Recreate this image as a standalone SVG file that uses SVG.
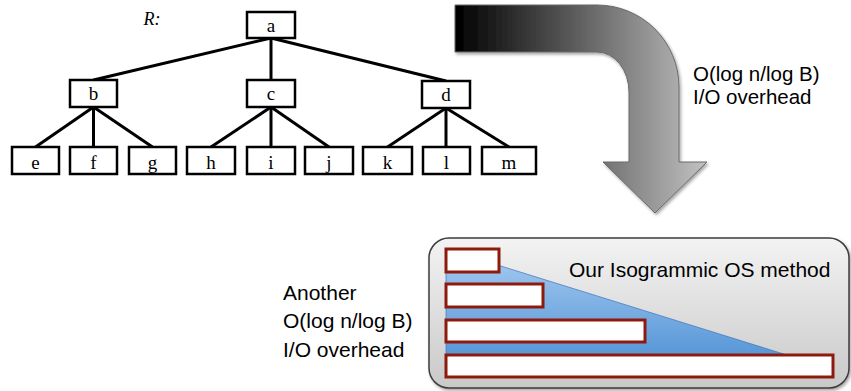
<svg xmlns="http://www.w3.org/2000/svg" width="851" height="391" viewBox="0 0 851 391">
<style>
.box{fill:#fff;stroke:#000;stroke-width:2.5}
.lbl{font-family:"Liberation Serif",serif;font-size:19px;text-anchor:middle;fill:#000}
.edge{stroke:#000;stroke-width:3;fill:none}
.sans{font-family:"Liberation Sans",Arial,sans-serif;font-size:21px;fill:#000}
.sans2{font-family:"Liberation Sans",Arial,sans-serif;font-size:20.5px;fill:#000}
.bar{fill:#fff;stroke:#8e1a0e;stroke-width:3}
</style>
<defs>
<linearGradient id="arrowGrad" gradientUnits="userSpaceOnUse" x1="455" y1="0" x2="707" y2="0">
<stop offset="0" stop-color="#000"/>
<stop offset="1" stop-color="#c2c2c2"/>
</linearGradient>
<linearGradient id="panelGrad" x1="0" y1="0" x2="0" y2="1">
<stop offset="0" stop-color="#f3f3f3"/>
<stop offset="1" stop-color="#c9c9c9"/>
</linearGradient>
<linearGradient id="blueGrad" x1="0" y1="0" x2="0" y2="1">
<stop offset="0" stop-color="#a9ccf2"/>
<stop offset="1" stop-color="#5495d6"/>
</linearGradient>
<filter id="shadow" x="-10%" y="-10%" width="130%" height="130%">
<feDropShadow dx="1.5" dy="2" stdDeviation="1.5" flood-color="#000" flood-opacity="0.35"/>
</filter>
</defs>

<g id="connectors">
<line class="edge" x1="271" y1="38" x2="93.5" y2="80"/>
<line class="edge" x1="271" y1="38" x2="271" y2="80"/>
<line class="edge" x1="271" y1="38" x2="446" y2="81"/>
<line class="edge" x1="93.5" y1="107" x2="35.5" y2="147"/>
<line class="edge" x1="93.5" y1="107" x2="93.5" y2="147"/>
<line class="edge" x1="93.5" y1="107" x2="152.5" y2="147"/>
<line class="edge" x1="271" y1="107" x2="211" y2="147"/>
<line class="edge" x1="271" y1="107" x2="271" y2="147"/>
<line class="edge" x1="271" y1="107" x2="329" y2="147"/>
<line class="edge" x1="446" y1="108" x2="387.5" y2="147"/>
<line class="edge" x1="446" y1="108" x2="446" y2="147"/>
<line class="edge" x1="446" y1="108" x2="509" y2="147"/>
</g>

<text class="lbl" x="152" y="25" style="font-style:italic;font-size:18px">R:</text>

<g id="node-a"><rect class="box" x="247" y="12" width="48" height="26"/><text class="lbl" x="271" y="32">a</text></g>
<g id="node-b"><rect class="box" x="70" y="80" width="47" height="27"/><text class="lbl" x="93.5" y="100">b</text></g>
<g id="node-c"><rect class="box" x="247" y="80" width="48" height="27"/><text class="lbl" x="271" y="100">c</text></g>
<g id="node-d"><rect class="box" x="422" y="81" width="48" height="27"/><text class="lbl" x="446" y="101">d</text></g>
<g id="node-e"><rect class="box" x="12" y="147" width="47" height="27"/><text class="lbl" x="35.5" y="169">e</text></g>
<g id="node-f"><rect class="box" x="70" y="147" width="47" height="27"/><text class="lbl" x="93.5" y="169">f</text></g>
<g id="node-g"><rect class="box" x="129" y="147" width="47" height="27"/><text class="lbl" x="152.5" y="169">g</text></g>
<g id="node-h"><rect class="box" x="187" y="147" width="48" height="27"/><text class="lbl" x="211" y="169">h</text></g>
<g id="node-i"><rect class="box" x="247" y="147" width="48" height="27"/><text class="lbl" x="271" y="169">i</text></g>
<g id="node-j"><rect class="box" x="305" y="147" width="48" height="27"/><text class="lbl" x="329" y="169">j</text></g>
<g id="node-k"><rect class="box" x="363" y="147" width="49" height="27"/><text class="lbl" x="387.5" y="169">k</text></g>
<g id="node-l"><rect class="box" x="423" y="147" width="47" height="27"/><text class="lbl" x="446.5" y="169">l</text></g>
<g id="node-m"><rect class="box" x="482" y="147" width="54" height="27"/><text class="lbl" x="509" y="169">m</text></g>

<g id="bent-arrow">
<path d="M455,5 L597,5 A82,82 0 0 1 679,87 L679,162 L707,162 L655,213 L603,162 L629,162 L629,92 A32,40 0 0 0 597,52 L455,52 Z" fill="url(#arrowGrad)" stroke="#6a6a6a" stroke-width="1" filter="url(#shadow)"/>
</g>

<text class="sans2" x="693" y="80.5">O(log n/log B)</text>
<text class="sans2" x="693" y="104">I/O overhead</text>

<g id="panel">
<rect x="429" y="238" width="420" height="150" rx="20" ry="20" fill="url(#panelGrad)" stroke="#3c3c3c" stroke-width="1.5" filter="url(#shadow)"/>
<polygon points="446,249 803,360 446,360" fill="url(#blueGrad)" stroke="#4a7fc0" stroke-width="0.8"/>
<rect class="bar" x="446" y="249" width="53" height="23"/>
<rect class="bar" x="446" y="284" width="97" height="23"/>
<rect class="bar" x="446" y="320" width="199" height="22"/>
<rect class="bar" x="446" y="355" width="387" height="22"/>
<text class="sans" x="569" y="277">Our Isogrammic OS method</text>
</g>

<text class="sans" x="283" y="300">Another</text>
<text class="sans" x="283" y="328">O(log n/log B)</text>
<text class="sans" x="283" y="357">I/O overhead</text>
</svg>
